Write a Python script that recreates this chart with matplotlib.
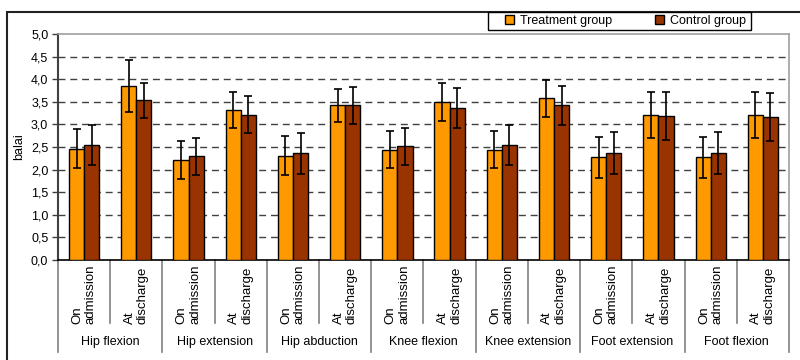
import matplotlib
matplotlib.use("Agg")
import matplotlib.pyplot as plt
import matplotlib.transforms as mtransforms
from matplotlib.lines import Line2D
from matplotlib.patches import Rectangle
from matplotlib.ticker import FuncFormatter
import numpy as np

plt.rcParams['font.family'] = ['Liberation Sans', 'DejaVu Sans']
plt.rcParams['font.size'] = 9

# data
groups = ["Hip flexion", "Hip extension", "Hip abduction", "Knee flexion",
          "Knee extension", "Foot extension", "Foot flexion"]
stages = ["On\nadmission", "At\ndischarge"]
treatment = [2.46, 3.85, 2.21, 3.32, 2.31, 3.42, 2.44, 3.50, 2.44, 3.58, 2.27, 3.21, 2.27, 3.21]
treatment_err = [0.43, 0.57, 0.42, 0.39, 0.44, 0.37, 0.41, 0.42, 0.41, 0.41, 0.45, 0.51, 0.45, 0.51]
control = [2.54, 3.53, 2.29, 3.21, 2.36, 3.42, 2.52, 3.37, 2.54, 3.42, 2.37, 3.19, 2.37, 3.16]
control_err = [0.44, 0.39, 0.42, 0.41, 0.45, 0.41, 0.41, 0.44, 0.44, 0.44, 0.46, 0.53, 0.46, 0.53]
series_names = ["Treatment group", "Control group"]
colors = ["#FF9900", "#993300"]

W, H = 800, 360
fig = plt.figure(figsize=(8, 3.6), dpi=100)
ax = fig.add_axes([58 / W, 1 - 260 / H, (789 - 58) / W, (260 - 34) / H])

# outer chart frame (runs off the right and bottom edges)
fig.patches.append(Rectangle((7 / W, -0.1), 1.2, 1.1 - 12 / H,
                             transform=fig.transFigure, fill=False,
                             edgecolor="#222222", lw=1.5))

n = len(treatment)
x = np.arange(n)
bw = 0.29
err_kw = dict(ecolor="black", elinewidth=1.2, capsize=3, capthick=1.2)
ax.bar(x - bw / 2, treatment, bw, yerr=treatment_err, color=colors[0],
       edgecolor="black", lw=1, zorder=3, error_kw=err_kw, label=series_names[0])
ax.bar(x + bw / 2, control, bw, yerr=control_err, color=colors[1],
       edgecolor="black", lw=1, zorder=3, error_kw=err_kw, label=series_names[1])

ax.set_xlim(-0.5, n - 0.5)
ax.set_ylim(0, 5)
ax.set_yticks(np.arange(0, 5.01, 0.5))
ax.yaxis.set_major_formatter(FuncFormatter(lambda v, p: f"{v:.1f}".replace(".", ",")))
ax.tick_params(axis="y", length=4, width=1, color="#404040", pad=3, labelsize=9)
ax.set_xticks([])
for v in np.arange(0.5, 4.6, 0.5):
    ax.axhline(v, color="#404040", lw=1, ls=(0, (5, 3.5)), zorder=1)

ax.spines["left"].set_color("#404040")
ax.spines["left"].set_linewidth(1.5)
ax.spines["bottom"].set_color("black")
ax.spines["bottom"].set_linewidth(1.2)
for s in ("top", "right"):
    ax.spines[s].set_color("#a0a0a0")
    ax.spines[s].set_linewidth(1.2)

ax.set_ylabel("balai", fontsize=9, labelpad=4)

# hierarchical category axis
trans = mtransforms.blended_transform_factory(ax.transData, ax.transAxes)
ah = 260 - 34
for i in range(n):
    ax.text(i, -(324 - 260) / ah, stages[i % 2], transform=trans, rotation=90,
            ha="center", va="bottom", multialignment="left", fontsize=9.5,
            linespacing=1.15)
for b in range(n + 1):
    long_line = b % 2 == 0
    y1 = -(352 - 260) / ah if long_line else -(323 - 260) / ah
    ax.add_line(Line2D([b - 0.5, b - 0.5], [0, y1], transform=trans,
                       color="#808080", lw=1.2, clip_on=False))
for g, name in enumerate(groups):
    ax.text(2 * g + 0.5, -(342 - 260) / ah, name, transform=trans,
            ha="center", va="center", fontsize=9)

# legend box drawn separately to match its wide padding
fig.patches.append(Rectangle((488 / W, 1 - 30 / H), (751 - 488) / W, 18 / H,
                             transform=fig.transFigure, facecolor="white",
                             edgecolor="black", lw=1, zorder=5))
leg = fig.legend(loc="center left", bbox_to_anchor=(505 / W, 1 - 21 / H), ncol=2,
                 frameon=False, fontsize=9, handlelength=0.75, handleheight=0.75,
                 handletextpad=0.45, columnspacing=3.4, borderpad=0, borderaxespad=0)
leg.set_zorder(6)

fig.savefig("out.png", dpi=100)
